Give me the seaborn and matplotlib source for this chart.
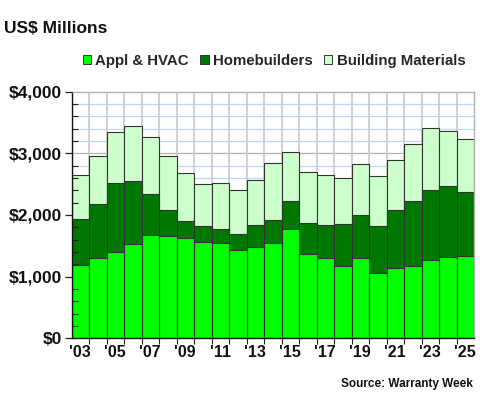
import numpy as np
import pandas as pd
import matplotlib
matplotlib.use("Agg")
import matplotlib.pyplot as plt
import seaborn as sns
from matplotlib.ticker import MultipleLocator, FixedLocator, FuncFormatter
from matplotlib.patches import Patch

years = list(range(2003, 2026))
appl_hvac = [1184, 1297, 1400, 1535, 1670, 1654, 1627, 1557, 1551, 1427, 1476, 1540,
             1778, 1362, 1308, 1167, 1303, 1059, 1135, 1178, 1265, 1313, 1335]
homebuilders = [746, 881, 1113, 1022, 670, 427, 276, 265, 222, 265, 362, 384,
                443, 508, 535, 687, 697, 768, 946, 1049, 1140, 1152, 1032]
building_materials = [724, 779, 827, 881, 925, 876, 772, 675, 740, 708, 729, 914,
                      795, 822, 811, 751, 821, 800, 805, 919, 1011, 897, 871]
series_names = ["Appl & HVAC", "Homebuilders", "Building Materials"]
colors = ["#00FF00", "#007800", "#CCFFCC"]
tick_labels = ["'" + str(y)[2:] if (y - 2003) % 2 == 0 else "" for y in years]

sns.set_theme(style="white")
plt.rcParams['font.family'] = ['Liberation Sans', 'DejaVu Sans']
plt.rcParams['font.weight'] = 'bold'

df = pd.DataFrame({
    "year": [str(y) for y in years],
    "appl": appl_hvac,
    "home": homebuilders,
    "bm": building_materials,
})
df["lvl1"] = df["appl"]
df["lvl2"] = df["appl"] + df["home"]
df["lvl3"] = df["lvl2"] + df["bm"]

fig = plt.figure(figsize=(4.8, 4.0), dpi=100)
ax = fig.add_axes([0.149, 0.154, 0.8385, 0.617])

edge = "#333333"
for col, c in zip(["lvl3", "lvl2", "lvl1"], [colors[2], colors[1], colors[0]]):
    sns.barplot(data=df, x="year", y=col, color=c, width=1.0, edgecolor=edge,
                linewidth=0.8, ax=ax, saturation=1, zorder=1)

ax.set_xlim(-0.5, len(years) - 0.5)
ax.set_ylim(0, 4000)

# manual gridlines behind bars
for v in np.arange(200, 4000, 200):
    if v % 1000 == 0:
        ax.axhline(v, color="#b0b0b0", linewidth=0.9, zorder=0)
    else:
        ax.axhline(v, color="#b8d8ff", linewidth=0.9, zorder=0)
for xb in np.arange(0.5, len(years) - 0.5, 1.0):
    ax.axvline(xb, color="#c8c8c8", linewidth=1.2, zorder=0)

# y axis
ax.yaxis.set_major_locator(MultipleLocator(1000))
ax.yaxis.set_minor_locator(MultipleLocator(200))
ax.yaxis.set_major_formatter(FuncFormatter(lambda v, p: "${:,.0f}".format(v)))

# x axis
ax.set_xticks(range(len(years)))
ax.set_xticklabels(tick_labels)
ax.xaxis.set_minor_locator(FixedLocator(np.arange(0.5, len(years) - 0.5, 1.0)))
ax.set_axisbelow(False)
ax.grid(False)

ax.tick_params(axis="x", which="major", length=0, labelsize=11.5, pad=5)
ax.tick_params(axis="x", which="minor", length=4, direction="out", color="#222222", width=0.8)
ax.tick_params(axis="y", which="major", length=5, direction="out", color="#222222",
               labelsize=12.5, pad=2, width=0.9)
ax.tick_params(axis="y", which="minor", length=4, direction="in", color="#222222", width=0.8)
ax.yaxis.set_tick_params(which="both", left=True)
ax.xaxis.set_tick_params(which="minor", bottom=True)
for lab in ax.get_xticklabels() + ax.get_yticklabels():
    lab.set_fontweight("bold")
    lab.set_color("#111111")

ax.set_xlabel("")
ax.set_ylabel("")

for s in ["left", "bottom"]:
    ax.spines[s].set_color("#111111")
    ax.spines[s].set_linewidth(1.0)
for s in ["top", "right"]:
    ax.spines[s].set_color("#b0b0b0")
    ax.spines[s].set_linewidth(1.0)

fig.text(0.009, 0.918, "US$ Millions", fontsize=12.5, fontweight="bold", color="#111111",
         ha="left", va="baseline")

handles = [Patch(facecolor=c, edgecolor=edge, linewidth=0.7, label=n)
           for c, n in zip(colors, series_names)]
fig.legend(handles=handles, loc="center", bbox_to_anchor=(0.571, 0.848), ncol=3,
           frameon=False, handlelength=0.55, handleheight=0.55,
           handletextpad=0.3, columnspacing=0.75, prop={"weight": "bold", "size": 10.8})

fig.text(0.985, 0.033, "Source: Warranty Week", fontsize=8.5, fontweight="bold",
         color="#111111", ha="right", va="baseline")

fig.savefig("out.png", dpi=100)
